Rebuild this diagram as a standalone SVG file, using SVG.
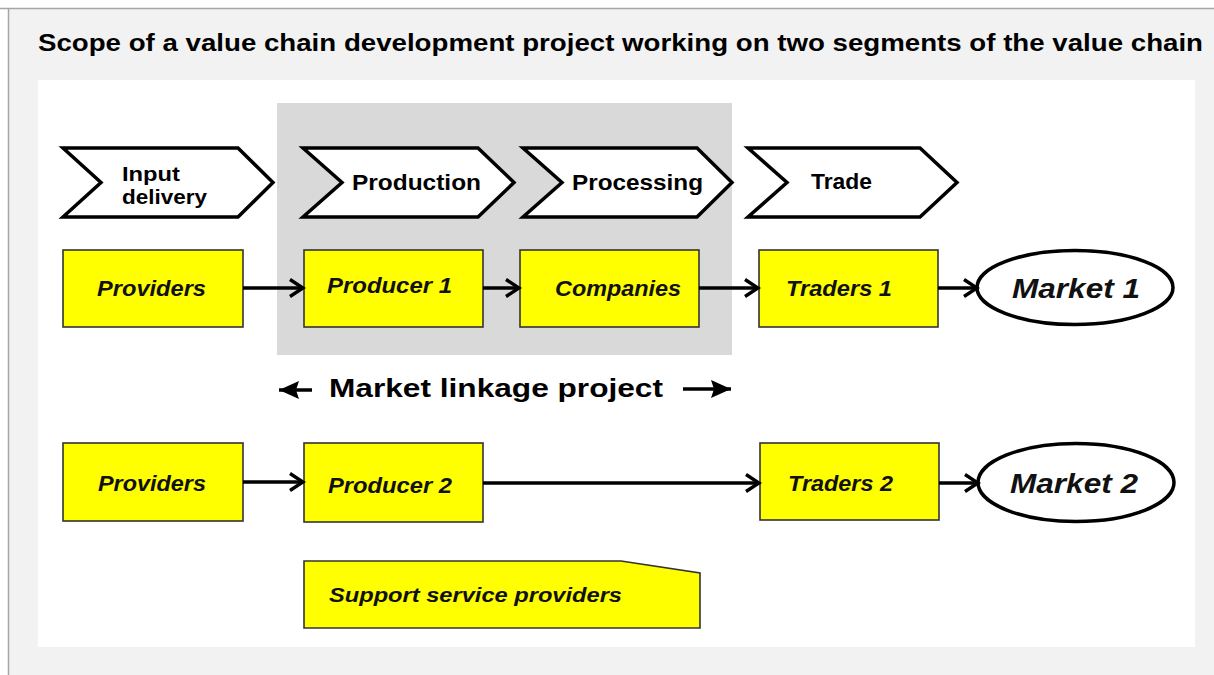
<svg xmlns="http://www.w3.org/2000/svg" width="1214" height="675" viewBox="0 0 1214 675">
<style>
.t{font-family:"Liberation Sans",Arial,sans-serif;font-weight:bold;fill:#000}
.bi{font-family:"Liberation Sans",Arial,sans-serif;font-weight:bold;font-style:italic;fill:#111}
.chev{fill:#fff;stroke:#000;stroke-width:3.5;stroke-linejoin:miter}
.box{fill:#ffff00;stroke:#333;stroke-width:1.6}
.ell{fill:#fff;stroke:#000;stroke-width:3.5}
.con{stroke:#000;stroke-width:3.4;fill:none}
</style>
<defs>
<marker id="open" markerUnits="userSpaceOnUse" markerWidth="18" markerHeight="22" refX="15" refY="11" orient="auto">
<path d="M2,2.5 L15,11 L2,19.5" fill="none" stroke="#000" stroke-width="3.4"/>
</marker>
<marker id="solid" markerUnits="userSpaceOnUse" markerWidth="22" markerHeight="22" refX="20" refY="11" orient="auto">
<path d="M0,2 L20,11 L0,20 L3,11 Z" fill="#000"/>
</marker>
</defs>
<rect x="0" y="0" width="1214" height="675" fill="#fff"/>
<rect x="8" y="8" width="1206" height="667" fill="#f2f2f2"/>
<line x1="0" y1="8.5" x2="1214" y2="8.5" stroke="#a6a6a6" stroke-width="1.5"/>
<line x1="8.5" y1="8" x2="8.5" y2="675" stroke="#a6a6a6" stroke-width="1.5"/>
<text class="t" x="38" y="51" font-size="23" textLength="1165" lengthAdjust="spacingAndGlyphs">Scope of a value chain development project working on two segments of the value chain</text>
<rect x="38" y="80" width="1157" height="567" fill="#fff"/>
<rect id="project-scope" x="277" y="103" width="455" height="252" fill="#d9d9d9"/>

<g id="stage-input">
<path class="chev" d="M63,148 L238,148 L273,182.5 L238,217 L63,217 L101,182.5 Z"/>
<text class="t" x="122" y="181" font-size="21" textLength="58" lengthAdjust="spacingAndGlyphs">Input</text>
<text class="t" x="122" y="204" font-size="21" textLength="85" lengthAdjust="spacingAndGlyphs">delivery</text>
</g>
<g id="stage-production">
<path class="chev" d="M303,148 L478,148 L514,182.5 L478,217 L303,217 L342,182.5 Z"/>
<text class="t" x="352" y="190" font-size="22" textLength="129" lengthAdjust="spacingAndGlyphs">Production</text>
</g>
<g id="stage-processing">
<path class="chev" d="M523,148 L697,148 L732,182.5 L697,217 L523,217 L562,182.5 Z"/>
<text class="t" x="572" y="190" font-size="22" textLength="131" lengthAdjust="spacingAndGlyphs">Processing</text>
</g>
<g id="stage-trade">
<path class="chev" d="M748,148 L920,148 L957,182.5 L920,217 L748,217 L787,182.5 Z"/>
<text class="t" x="811" y="189" font-size="22" textLength="61" lengthAdjust="spacingAndGlyphs">Trade</text>
</g>

<g id="providers-1">
<rect class="box" x="63" y="250" width="180" height="77"/>
<text class="bi" x="97" y="296" font-size="22" textLength="109" lengthAdjust="spacingAndGlyphs">Providers</text>
</g>
<g id="producer-1">
<rect class="box" x="304" y="250" width="179" height="77"/>
<text class="bi" x="327" y="293" font-size="22" textLength="125" lengthAdjust="spacingAndGlyphs">Producer 1</text>
</g>
<g id="companies">
<rect class="box" x="520" y="250" width="179" height="77"/>
<text class="bi" x="555" y="296" font-size="22" textLength="126" lengthAdjust="spacingAndGlyphs">Companies</text>
</g>
<g id="traders-1">
<rect class="box" x="759" y="250" width="179" height="77"/>
<text class="bi" x="786" y="296" font-size="22" textLength="106" lengthAdjust="spacingAndGlyphs">Traders 1</text>
</g>
<g id="market-1">
<ellipse class="ell" cx="1075" cy="287.5" rx="98" ry="37"/>
<text class="bi" x="1012" y="298" font-size="28" textLength="128" lengthAdjust="spacingAndGlyphs">Market 1</text>
</g>

<g id="market-linkage-label">
<text class="t" x="329" y="397" font-size="26" textLength="334" lengthAdjust="spacingAndGlyphs">Market linkage project</text>
</g>

<g id="providers-2">
<rect class="box" x="63" y="443" width="180" height="78"/>
<text class="bi" x="98" y="491" font-size="22" textLength="108" lengthAdjust="spacingAndGlyphs">Providers</text>
</g>
<g id="producer-2">
<rect class="box" x="304" y="443" width="179" height="79"/>
<text class="bi" x="328" y="493" font-size="22" textLength="124" lengthAdjust="spacingAndGlyphs">Producer 2</text>
</g>
<g id="traders-2">
<rect class="box" x="760" y="443" width="179" height="77"/>
<text class="bi" x="788" y="491" font-size="22" textLength="105" lengthAdjust="spacingAndGlyphs">Traders 2</text>
</g>
<g id="market-2">
<ellipse class="ell" cx="1076" cy="482.5" rx="98" ry="39"/>
<text class="bi" x="1010" y="493" font-size="28" textLength="128" lengthAdjust="spacingAndGlyphs">Market 2</text>
</g>

<g id="support-service-providers">
<path class="box" d="M304,561 L621,561 L700,573 L700,628 L304,628 Z"/>
<text class="bi" x="329" y="602" font-size="21" textLength="293" lengthAdjust="spacingAndGlyphs">Support service providers</text>
</g>

<g id="connectors">
<line class="con" x1="243" y1="288" x2="303" y2="288" marker-end="url(#open)"/>
<line class="con" x1="483" y1="288" x2="519" y2="288" marker-end="url(#open)"/>
<line class="con" x1="699" y1="288" x2="758" y2="288" marker-end="url(#open)"/>
<line class="con" x1="938" y1="288" x2="977" y2="288" marker-end="url(#open)"/>
<line class="con" x1="243" y1="482" x2="303" y2="482" marker-end="url(#open)"/>
<line class="con" x1="483" y1="483" x2="759" y2="483" marker-end="url(#open)"/>
<line class="con" x1="939" y1="483" x2="978" y2="483" marker-end="url(#open)"/>
<line class="con" x1="312" y1="390" x2="279" y2="390" marker-end="url(#solid)"/>
<line class="con" x1="683" y1="389" x2="731" y2="389" marker-end="url(#solid)"/>
</g>
</svg>
